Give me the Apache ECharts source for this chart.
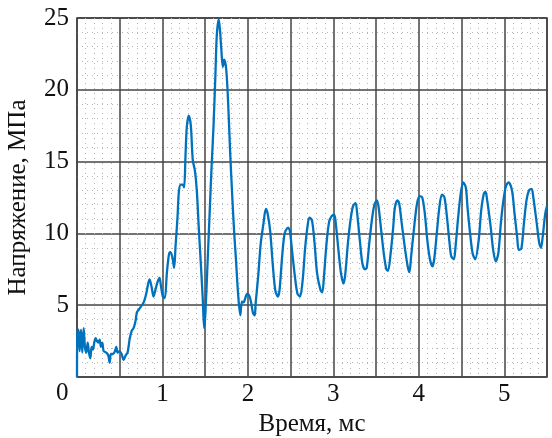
<!DOCTYPE html>
<html>
<head>
<meta charset="utf-8">
<script src="https://cdn.jsdelivr.net/npm/echarts@6/dist/echarts.min.js"></script>
<style>
html,body{margin:0;padding:0;background:#fff;}
#chart{width:552px;height:438px;}
#fontwarm{position:absolute;left:-9999px;top:0;font:25px "Liberation Serif";}
</style>
</head>
<body>
<div id="fontwarm">Время, мс Напряжение, МПа 0123456789</div>
<div id="chart"></div>
<script>
// Time, ms
var timeMs = [0, 0.005, 0.019, 0.031, 0.047, 0.062, 0.078, 0.093, 0.109, 0.125, 0.140, 0.156, 0.171, 0.187, 0.202, 0.218, 0.234, 0.249, 0.265, 0.280, 0.296, 0.312, 0.343, 0.366, 0.382, 0.397, 0.421, 0.444, 0.459, 0.475, 0.498, 0.522, 0.545, 0.569, 0.592, 0.615, 0.639, 0.662, 0.685, 0.701, 0.724, 0.748, 0.771, 0.787, 0.810, 0.833, 0.849, 0.872, 0.896, 0.919, 0.942, 0.966, 0.981, 1.005, 1.028, 1.051, 1.075, 1.090, 1.114, 1.137, 1.153, 1.176, 1.192, 1.215, 1.238, 1.254, 1.269, 1.285, 1.308, 1.332, 1.355, 1.379, 1.402, 1.425, 1.449, 1.472, 1.488, 1.503, 1.526, 1.550, 1.573, 1.597, 1.620, 1.636, 1.659, 1.674, 1.690, 1.706, 1.721, 1.745, 1.768, 1.791, 1.815, 1.838, 1.861, 1.885, 1.911, 1.93, 1.95, 1.97, 1.99, 2.02, 2.04, 2.06, 2.08, 2.09, 2.12, 2.15, 2.18, 2.21, 2.23, 2.26, 2.29, 2.32, 2.35, 2.37, 2.40, 2.43, 2.47, 2.49, 2.52, 2.55, 2.58, 2.61, 2.64, 2.67, 2.70, 2.72, 2.75, 2.78, 2.81, 2.85, 2.87, 2.89, 2.92, 2.95, 2.98, 3.01, 3.03, 3.06, 3.09, 3.12, 3.14, 3.17, 3.20, 3.23, 3.26, 3.28, 3.31, 3.34, 3.37, 3.39, 3.42, 3.45, 3.48, 3.51, 3.53, 3.56, 3.59, 3.62, 3.64, 3.67, 3.70, 3.72, 3.75, 3.77, 3.80, 3.84, 3.87, 3.89, 3.91, 3.95, 3.98, 4.01, 4.04, 4.07, 4.10, 4.13, 4.16, 4.18, 4.21, 4.24, 4.27, 4.30, 4.33, 4.36, 4.38, 4.41, 4.43, 4.46, 4.49, 4.52, 4.55, 4.57, 4.60, 4.63, 4.66, 4.70, 4.73, 4.76, 4.78, 4.80, 4.84, 4.87, 4.90, 4.93, 4.96, 4.99, 5.02, 5.05, 5.09, 5.12, 5.15, 5.17, 5.20, 5.23, 5.26, 5.29, 5.32, 5.34, 5.38, 5.41, 5.43, 5.45, 5.48, 5.5];
// Stress, MPa
var stressMPa = [0, 3.2, 3.3, 1.8, 3.3, 1.7, 3.4, 2.1, 1.7, 2.4, 1.7, 1.3, 2.1, 1.9, 2.4, 2.7, 2.5, 2.4, 2.6, 2.1, 2.4, 1.8, 1.7, 1.5, 1.0, 1.6, 1.6, 1.8, 2.1, 1.7, 1.8, 1.6, 1.2, 1.5, 1.7, 2.6, 3.2, 3.4, 3.9, 4.5, 4.7, 4.9, 5.1, 5.3, 5.8, 6.5, 6.8, 6.3, 5.6, 6.1, 6.6, 6.9, 6.4, 5.6, 5.5, 7.2, 8.5, 8.7, 8.4, 7.6, 9.1, 11.1, 12.9, 13.4, 13.4, 13.2, 15.3, 17.4, 18.2, 17.5, 15.1, 14.4, 13.0, 10.4, 7.9, 5.4, 3.4, 4.5, 7.7, 11.1, 14.4, 17.4, 21.1, 23.8, 24.9, 24.1, 22.7, 21.6, 22.1, 21.5, 19.2, 15.8, 12.8, 10.2, 8.1, 5.8, 4.3, 5.25, 5.2, 5.5, 5.8, 5.6, 5.1, 4.45, 4.3, 5.1, 7.0, 9.3, 10.6, 11.7, 11.4, 10.2, 7.9, 6.05, 5.6, 6.05, 8.35, 10.0, 10.4, 10.2, 8.6, 7.0, 5.8, 5.6, 6.7, 9.0, 10.6, 11.1, 10.9, 9.3, 7.2, 6.05, 5.9, 7.0, 9.3, 10.8, 11.2, 11.3, 10.6, 8.8, 7.2, 6.5, 7.2, 9.3, 10.9, 11.9, 12.1, 11.3, 9.5, 7.9, 7.5, 7.6, 9.3, 10.9, 12.0, 12.3, 11.8, 10.2, 8.6, 7.5, 7.4, 8.6, 10.4, 11.8, 12.3, 12.1, 10.7, 8.85, 7.7, 7.3, 8.4, 10.7, 12.1, 12.6, 12.5, 11.4, 9.5, 8.2, 7.7, 8.2, 10.0, 11.8, 12.7, 12.5, 11.1, 9.3, 8.4, 8.2, 9.1, 11.1, 12.75, 13.55, 13.2, 11.8, 10.0, 8.6, 8.2, 9.5, 11.6, 12.75, 12.9, 12.3, 10.5, 8.85, 8.05, 8.6, 10.7, 12.3, 13.3, 13.55, 13.0, 11.4, 9.8, 8.85, 8.95, 10.7, 12.3, 13.0, 13.1, 12.5, 10.7, 9.3, 9.0, 9.8, 11.4, 11.9];
var xTickLabels = ['1', '2', '3', '4', '5'];
var yTickLabels = ['5', '10', '15', '20', '25'];
var xTitle = 'Время, мс';
var yTitle = 'Напряжение, МПа';
var cornerLabel = '0';

var seriesData = timeMs.map(function (t, i) { return [t, stressMPa[i]]; });
var FONT = 'Liberation Serif';

function buildOption() {
  return {
    animation: false,
    backgroundColor: '#fff',
    grid: {left: 77, right: 5, top: 18, bottom: 61, show: true, borderColor: '#333', borderWidth: 1.5,
           backgroundColor: 'transparent', containLabel: false, outerBoundsMode: 'none'},
    xAxis: {
      type: 'value', min: 0, max: 5.5, interval: 0.5,
      name: xTitle, nameLocation: 'middle', nameGap: 31,
      nameTextStyle: {fontFamily: FONT, fontSize: 25, color: '#111', verticalAlign: 'top'},
      axisLine: {show: false}, axisTick: {show: false},
      axisLabel: {
        fontFamily: FONT, fontSize: 25, color: '#111', margin: 5,
        formatter: function (v) {
          var s = String(Math.round(v));
          return (Math.abs(v - Math.round(v)) < 1e-6 && xTickLabels.indexOf(s) >= 0) ? s : '';
        }
      },
      splitLine: {show: true, lineStyle: {color: '#444', width: 1.5}},
      minorTick: {show: false, splitNumber: 5},
      minorSplitLine: {show: true, lineStyle: {color: '#b4b4b4', width: 1, type: [1, 4]}}
    },
    yAxis: {
      type: 'value', min: 0, max: 25, interval: 5,
      name: yTitle, nameLocation: 'middle', nameGap: 46,
      nameTextStyle: {fontFamily: FONT, fontSize: 25, color: '#111'},
      axisLine: {show: false}, axisTick: {show: false},
      axisLabel: {
        fontFamily: FONT, fontSize: 25, color: '#111', margin: 8,
        formatter: function (v) { var s = String(v); return yTickLabels.indexOf(s) >= 0 ? s : ''; }
      },
      splitLine: {show: true, lineStyle: {color: '#444', width: 1.5}},
      minorTick: {show: false, splitNumber: 5},
      minorSplitLine: {show: true, lineStyle: {color: '#b4b4b4', width: 1, type: [1, 4]}}
    },
    graphic: [{
      type: 'text', left: 56, top: 381,
      style: {text: cornerLabel, fontFamily: FONT, fontSize: 25, fill: '#111'}
    }],
    series: [{
      type: 'line', data: seriesData, showSymbol: false, smooth: 0.3,
      lineStyle: {color: '#0072BD', width: 2.3}, itemStyle: {color: '#0072BD'}, z: 5
    }]
  };
}

var chart = echarts.init(document.getElementById('chart'), null, {renderer: 'canvas'});
chart.setOption(buildOption());
function redraw() { chart.clear(); chart.setOption(buildOption()); }
if (document.fonts && document.fonts.load) {
  document.fonts.load('25px "Liberation Serif"', 'Время0123').then(redraw, redraw);
  if (document.fonts.ready) document.fonts.ready.then(redraw);
}
</script>
</body>
</html>
